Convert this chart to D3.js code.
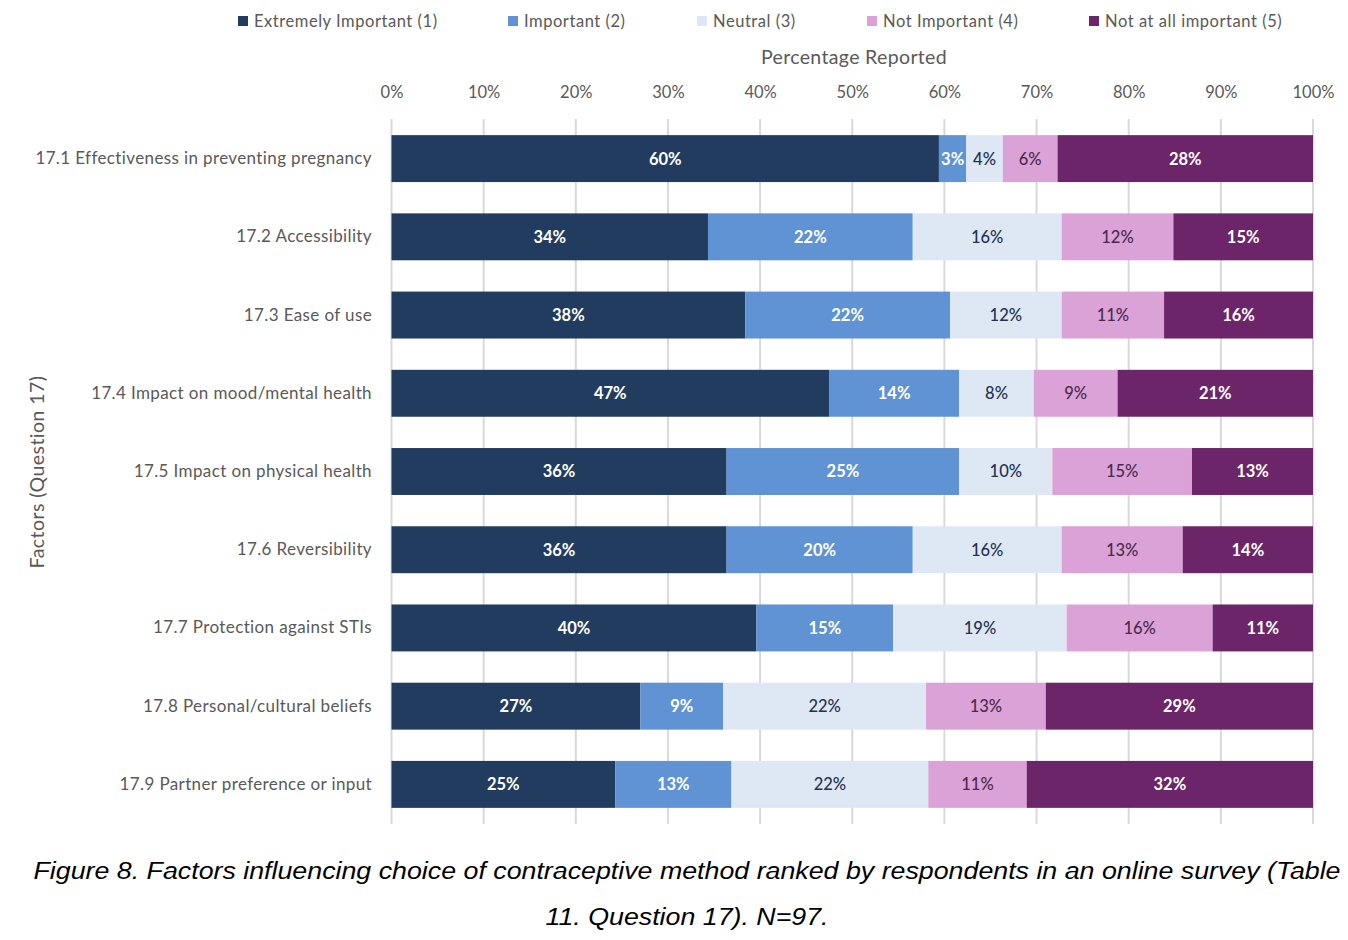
<!DOCTYPE html>
<html><head><meta charset="utf-8">
<script src="https://cdn.jsdelivr.net/npm/d3@7"></script>
<style>body{margin:0;background:#fff}svg{display:block}</style>
</head><body>
<script>
const categories = [
  "17.1 Effectiveness in preventing pregnancy",
  "17.2 Accessibility",
  "17.3 Ease of use",
  "17.4 Impact on mood/mental health",
  "17.5 Impact on physical health",
  "17.6 Reversibility",
  "17.7 Protection against STIs",
  "17.8 Personal/cultural beliefs",
  "17.9 Partner preference or input"
];
const seriesNames = ["Extremely Important (1)","Important (2)","Neutral (3)","Not Important (4)","Not at all important (5)"];
const extremelyImportant = [60,34,38,47,36,36,40,27,25];
const important          = [3,22,22,14,25,20,15,9,13];
const neutral            = [4,16,12,8,10,16,19,22,22];
const notImportant       = [6,12,11,9,15,13,16,13,11];
const notAtAllImportant  = [28,15,16,21,13,14,11,29,32];
const tickValues = [0,0.1,0.2,0.3,0.4,0.5,0.6,0.7,0.8,0.9,1];
const colors = ["#213C5E","#5F93D3","#DEE8F5","#DBA2D8","#6C2568"];
const labelColors = ["#ffffff","#ffffff","#22324f","#4a2a4c","#ffffff"];

const seriesValues = [extremelyImportant, important, neutral, notImportant, notAtAllImportant];
const rows = categories.map((c,i)=>{const o={cat:c}; seriesNames.forEach((s,j)=>o[s]=seriesValues[j][i]); return o;});

const W=1348,H=940;
const svg=d3.select("body").append("svg").attr("width",W).attr("height",H);
const font="Lato, 'Open Sans', sans-serif";

const x=d3.scaleLinear().domain([0,1]).range([391.5,1313]);
const y=d3.scaleBand().domain(categories).range([119.5,823.5]).paddingInner(0.4).paddingOuter(0.2);

const stack=d3.stack().keys(seriesNames).offset(d3.stackOffsetExpand);
const stacked=stack(rows);

// gridlines
const xAxis=d3.axisTop(x).tickValues(tickValues).tickFormat(d3.format(".0%")).tickSize(0).tickPadding(0);
const gridG=svg.append("g");
gridG.selectAll("line").data(tickValues).join("line")
  .attr("x1",d=>x(d)).attr("x2",d=>x(d)).attr("y1",119).attr("y2",824)
  .attr("stroke","#d9d9d9").attr("stroke-width",2);

const ax=svg.append("g").attr("transform","translate(0,98)").call(xAxis);
ax.select(".domain").remove();
ax.selectAll("text").attr("font-family",font).attr("font-size",16.5).attr("fill","#595959").attr("dy",0);

// bars
const layers=svg.append("g").selectAll("g").data(stacked).join("g").attr("fill",(d,i)=>colors[i]);
layers.selectAll("rect").data(d=>d).join("rect")
  .attr("x",d=>x(d[0])).attr("width",d=>x(d[1])-x(d[0]))
  .attr("y",d=>y(d.data.cat)).attr("height",y.bandwidth());

// value labels
const lab=svg.append("g").selectAll("g").data(stacked).join("g");
lab.each(function(layer,i){
  d3.select(this).selectAll("text").data(layer).join("text")
    .attr("x",d=>(x(d[0])+x(d[1]))/2)
    .attr("y",d=>y(d.data.cat)+y.bandwidth()/2)
    .attr("dy","0.36em").attr("text-anchor","middle")
    .attr("font-family",font).attr("font-size",16.5).attr("font-weight",i===0||i===1||i===4?700:500)
    .attr("fill",labelColors[i])
    .text(d=>d.data[layer.key]+"%");
});

// category labels
const yAxis=d3.axisLeft(y).tickSize(0).tickPadding(0);
const ya=svg.append("g").attr("transform","translate(372,0)").call(yAxis);
ya.select(".domain").remove();
ya.selectAll("text").attr("font-family",font).attr("font-size",17).attr("letter-spacing","0.38px")
  .attr("fill","#595959").attr("dy","0.32em");

// axis titles
svg.append("text").attr("x",854).attr("y",64).attr("text-anchor","middle")
  .attr("font-family",font).attr("font-size",19.5).attr("letter-spacing","0.35px").attr("fill","#595959").text("Percentage Reported");
svg.append("text").attr("transform","translate(44,472) rotate(-90)").attr("text-anchor","middle")
  .attr("font-family",font).attr("font-size",19.5).attr("letter-spacing","0.45px").attr("fill","#595959").text("Factors (Question 17)");

// legend
const legX=[238,508,697,867,1089];
const leg=svg.append("g").selectAll("g").data(seriesNames).join("g")
  .attr("transform",(d,i)=>`translate(${legX[i]},0)`);
leg.append("rect").attr("x",0).attr("y",16).attr("width",10).attr("height",10).attr("fill",(d,i)=>colors[i]);
leg.append("text").attr("x",16).attr("y",27).attr("font-family",font).attr("font-size",16.5)
  .attr("letter-spacing","0.55px").attr("fill","#595959").text(d=>d);

// caption
const cap=["Figure 8. Factors influencing choice of contraceptive method ranked by respondents in an online survey (Table","11. Question 17). N=97."];
const capW=[1307,283];
svg.append("g").selectAll("text").data(cap).join("text")
  .attr("x",687).attr("y",(d,i)=>879+i*46).attr("text-anchor","middle")
  .attr("font-family","'Liberation Sans', Arial, sans-serif").attr("font-style","italic").attr("font-size",24.5)
  .attr("fill","#000").attr("textLength",(d,i)=>capW[i]).attr("lengthAdjust","spacingAndGlyphs").text(d=>d);
</script>
</body></html>
